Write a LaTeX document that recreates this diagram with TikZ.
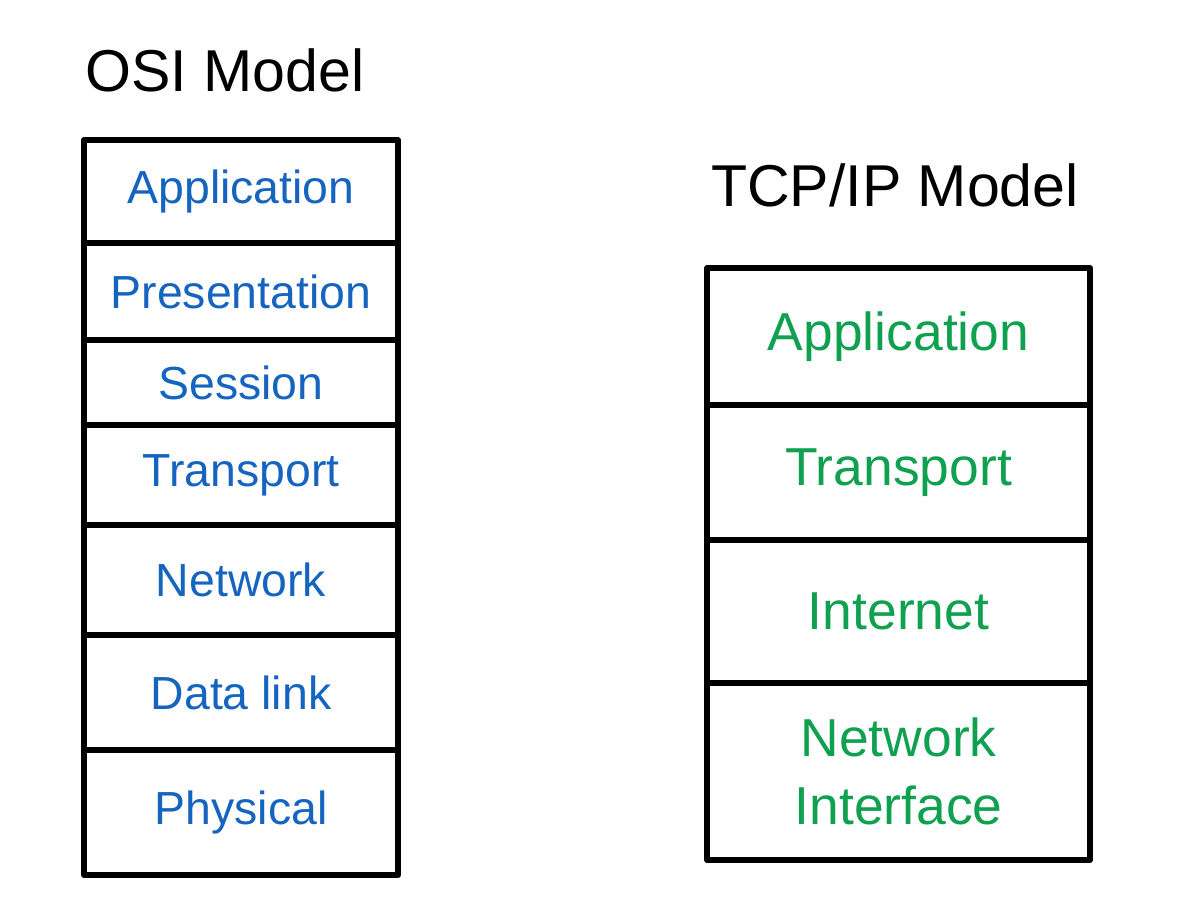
\documentclass[tikz,border=0pt]{standalone}
\usepackage{fontspec}
\setmainfont{Liberation Sans}
\usetikzlibrary{positioning}
\definecolor{osiblue}{HTML}{1565C0}
\definecolor{tcpgreen}{HTML}{0FA050}
\tikzset{
  title/.style={font=\fontsize{42}{48}\selectfont, text=black},
  layer/.style={draw, line width=4pt, outer sep=0pt, inner sep=0pt,
                line join=round},
  osilayer/.style={layer, minimum width=7.85cm, text=osiblue,
                   font=\fontsize{33}{38}\selectfont},
  tcplayer/.style={layer, minimum width=9.575cm, text=tcpgreen,
                   font=\fontsize{38}{48}\selectfont, align=center}
}
\begin{document}
\begin{tikzpicture}[x=0.025cm, y=-0.025cm]
  \useasboundingbox (0,0) rectangle (1200,921);
  % OSI stack
  \node[title] (osititle) at (225,70) {OSI Model};
  \node[osilayer, minimum height=2.575cm, anchor=north west] (app) at (84,140) {Application};
  \node[osilayer, minimum height=2.425cm, below=0pt of app] (pres) {Presentation};
  \node[osilayer, minimum height=2.125cm, below=0pt of pres] (sess) {Session};
  \node[osilayer, minimum height=2.5cm, below=0pt of sess] (trans) {Transport};
  \node[osilayer, minimum height=2.75cm, below=0pt of trans] (net) {Network};
  \node[osilayer, minimum height=2.875cm, below=0pt of net] (dlink) {Data link};
  \node[osilayer, minimum height=3.125cm, below=0pt of dlink] (phys) {Physical};
  % TCP/IP stack
  \node[title] (tcptitle) at (895,185) {TCP/IP Model};
  \node[tcplayer, minimum height=3.425cm, anchor=north west] (tapp) at (707,268) {Application};
  \node[tcplayer, minimum height=3.375cm, below=0pt of tapp] (ttrans) {Transport};
  \node[tcplayer, minimum height=3.575cm, below=0pt of ttrans] (tinet) {Internet};
  \node[tcplayer, minimum height=4.425cm, below=0pt of tinet] (tnet) {Network\\Interface};
\end{tikzpicture}
\end{document}
